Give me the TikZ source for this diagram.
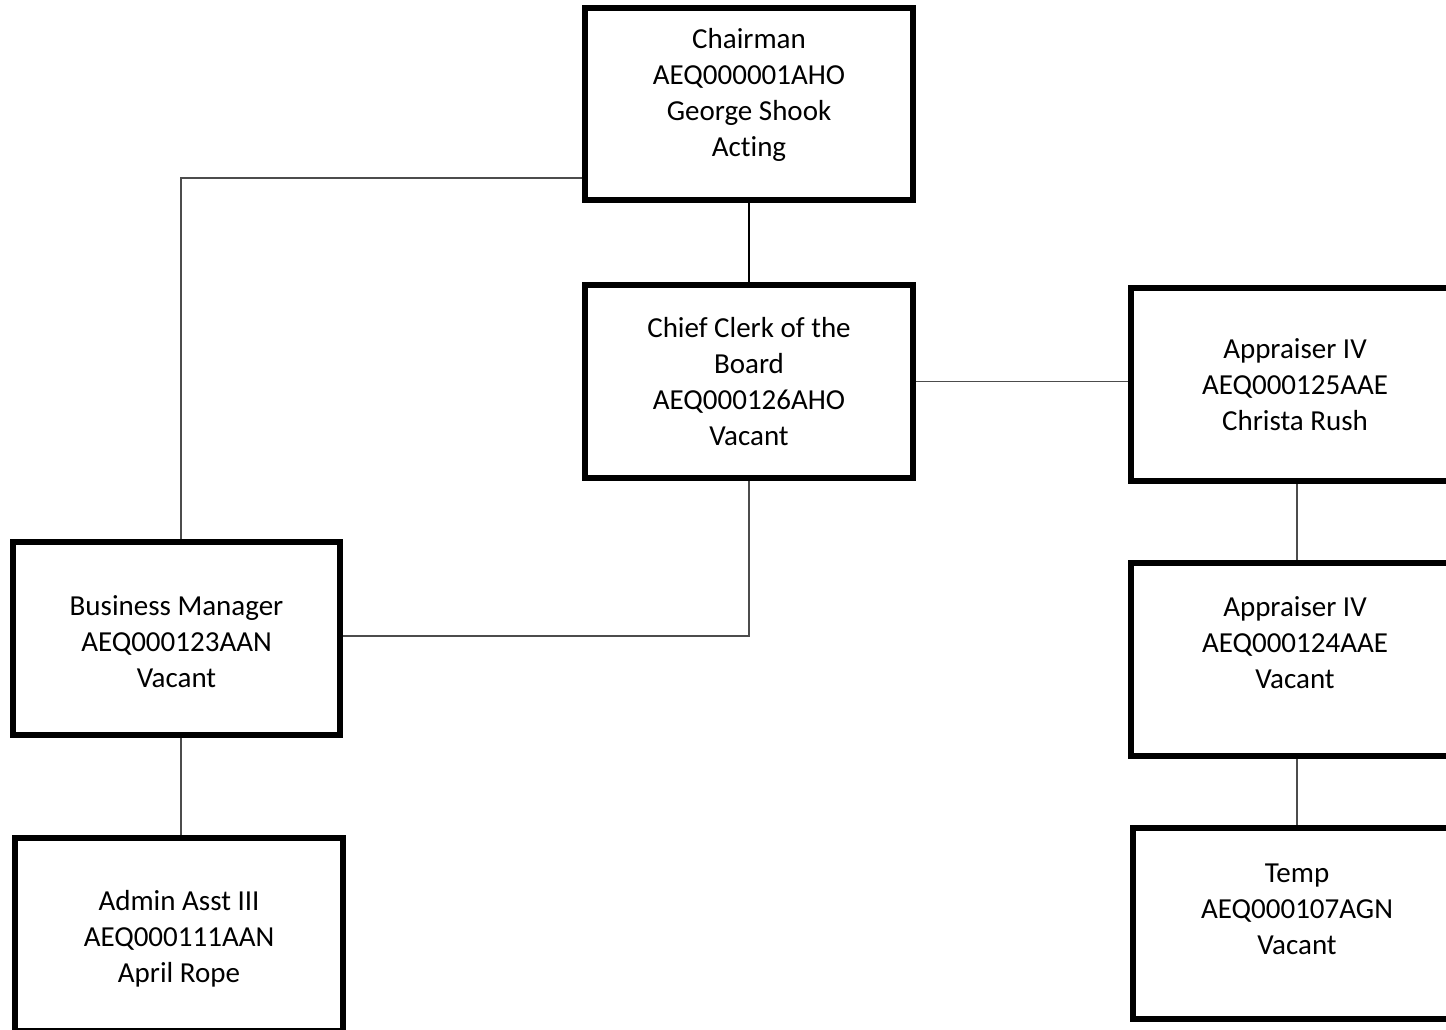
\documentclass[tikz,border=0pt]{standalone}
\usepackage{fontspec}
\setmainfont[Ligatures=NoCommon]{Carlito}
\begin{document}
\begin{tikzpicture}[x=1pt,y=-1pt,
  box/.style={draw=black,line width=6pt,rectangle,minimum width=327.5pt,minimum height=193pt,inner sep=0pt},
  lbl/.style={align=center,inner sep=0pt,font=\fontsize{29}{36}\selectfont},
  thinconn/.style={draw=black!70,line width=1.3pt},
  thickconn/.style={draw=black,line width=2.5pt}]
\useasboundingbox (0,0) rectangle (1446,1029);
\clip (0,0) rectangle (1446,1029);
\fill[white] (0,0) rectangle (1446,1029);

\node[box,minimum height=192pt] (chair) at (749,104.3) {};
\node[box] (chief) at (749,381.5) {};
\node[box] (app1) at (1295,384.5) {};
\node[box] (app2) at (1295,659) {};
\node[box,minimum height=191pt] (temp) at (1297,923.5) {};
\node[box] (bm) at (176.5,638.5) {};
\node[box] (admin) at (179,934.5) {};

\node[lbl,yshift=9pt] (chairtxt) at (chair.center) {Chairman\\AEQ000001AHO\\George Shook\\Acting};
\node[lbl] (chieftxt) at (chief.center) {Chief Clerk of the\\Board\\AEQ000126AHO\\Vacant};
\node[lbl] (app1txt) at (app1.center) {Appraiser IV\\AEQ000125AAE\\Christa Rush};
\node[lbl,yshift=16pt] (app2txt) at (app2.center) {Appraiser IV\\AEQ000124AAE\\Vacant};
\node[lbl,yshift=14.5pt] (temptxt) at (temp.center) {Temp\\AEQ000107AGN\\Vacant};
\node[lbl,yshift=-3pt] (bmtxt) at (bm.center) {Business Manager\\AEQ000123AAN\\Vacant};
\node[lbl,yshift=-4pt] (admintxt) at (admin.center) {Admin Asst III\\AEQ000111AAN\\April Rope};

\draw[thickconn] (chair.south) -- (chief.north);
\draw[thinconn] ([yshift=-73.7pt]chair.west) -| ([xshift=4.5pt]bm.north);
\draw[thinconn] (chief.south) |- ([yshift=2.5pt]bm.east);
\draw[thinconn] (chief.east) -- (chief.east -| app1.west);
\draw[thinconn] ([xshift=2pt]app1.south) -- ([xshift=2pt]app1.south |- app2.north);
\draw[thinconn] ([xshift=2pt]app2.south) -- ([xshift=2pt]app2.south |- temp.north);
\draw[thinconn] ([xshift=4.5pt]bm.south) -- ([xshift=4.5pt]bm.south |- admin.north);
\end{tikzpicture}
\end{document}
